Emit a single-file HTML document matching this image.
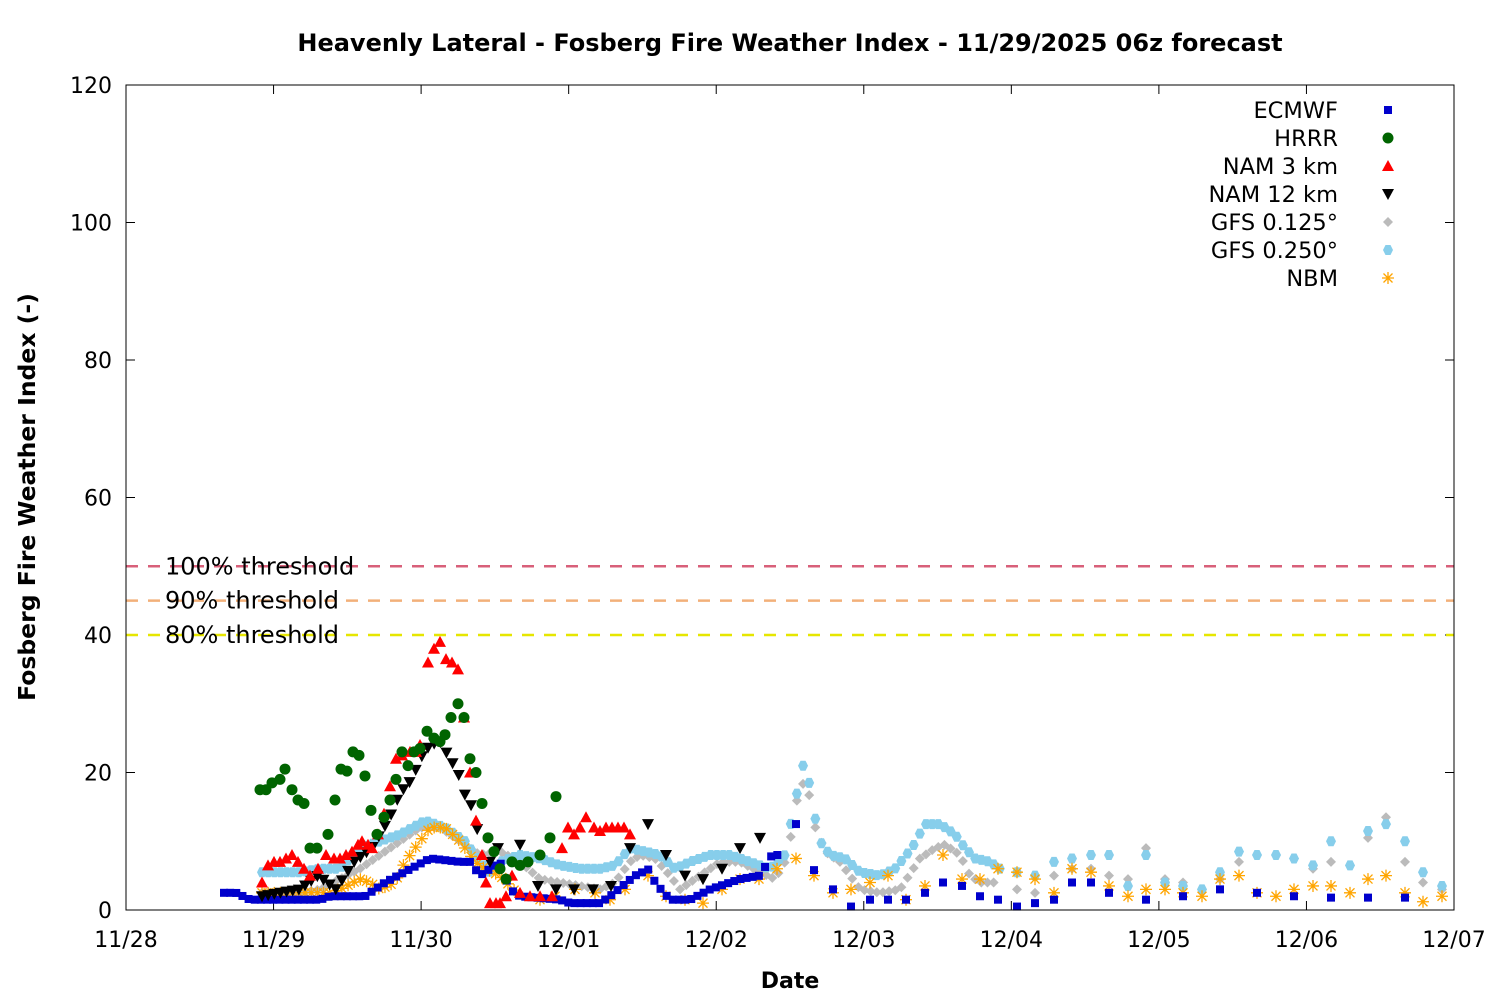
<!DOCTYPE html>
<html><head><meta charset="utf-8"><style>
body{margin:0;background:#fff}
text{font-family:"DejaVu Sans","Liberation Sans",sans-serif}
</style></head><body>
<svg id="s" width="1500" height="1000" xmlns="http://www.w3.org/2000/svg">
<rect width="1500" height="1000" fill="#fff"/>
<text x="790" y="51" text-anchor="middle" font-size="24" font-weight="bold">Heavenly Lateral - Fosberg Fire Weather Index - 11/29/2025 06z forecast</text>
<g id="axes"></g>
<g id="pts"></g>
<rect x="126" y="85" width="1328" height="825" fill="none" stroke="#000" stroke-width="1"/>
<text transform="translate(35,497) rotate(-90)" text-anchor="middle" font-size="23.5" font-weight="bold">Fosberg Fire Weather Index (-)</text>
<text x="790" y="988" text-anchor="middle" font-size="22" font-weight="bold">Date</text>
</svg>
<script>
const NS="http://www.w3.org/2000/svg";
const X0=126,X1=1454,Y0=910,YS=825/120,DAY=(X1-X0)/9;
function el(t,a,p){const e=document.createElementNS(NS,t);for(const k in a)e.setAttribute(k,a[k]);(p||document.getElementById('pts')).appendChild(e);return e;}
const ax=document.getElementById('axes');
for(let v=0;v<=120;v+=20){const y=Y0-v*YS;
 el('line',{x1:X0,y1:y,x2:X0+9,y2:y,stroke:'#000'},ax);el('line',{x1:X1,y1:y,x2:X1-9,y2:y,stroke:'#000'},ax);
 const t=el('text',{x:112,y:y+8,'text-anchor':'end','font-size':22},ax);t.textContent=v;}
const dl=['11/28','11/29','11/30','12/01','12/02','12/03','12/04','12/05','12/06','12/07'];
dl.forEach((d,i)=>{const x=X0+i*DAY;
 el('line',{x1:x,y1:Y0,x2:x,y2:Y0-9,stroke:'#000'},ax);el('line',{x1:x,y1:85,x2:x,y2:94,stroke:'#000'},ax);
 const t=el('text',{x:x,y:947,'text-anchor':'middle','font-size':22},ax);t.textContent=d;});
[[50,'#d8607a','100% threshold'],[45,'#f2b07a','90% threshold'],[40,'#e6e600','80% threshold']].forEach(([v,c,l])=>{const y=Y0-v*YS;
 el('line',{x1:X0,y1:y,x2:X1,y2:y,stroke:c,'stroke-width':2.5,'stroke-dasharray':'12,10'},ax);
 const t=el('text',{x:165,y:y+8,'font-size':24},ax);t.textContent=l;});
function mk(type,x,y){
 if(type=='sq')el('rect',{x:x-4,y:y-4,width:8,height:8,fill:'#0000cc'});
 else if(type=='ci')el('circle',{cx:x,cy:y,r:5.5,fill:'#006400'});
 else if(type=='tu')el('polygon',{points:`${x},${y-6} ${x-6},${y+5} ${x+6},${y+5}`,fill:'#ff0000'});
 else if(type=='td')el('polygon',{points:`${x},${y+6} ${x-6},${y-5} ${x+6},${y-5}`,fill:'#000'});
 else if(type=='di')el('polygon',{points:`${x},${y-5} ${x+5},${y} ${x},${y+5} ${x-5},${y}`,fill:'#bbbbbb'});
 else if(type=='hx')el('polygon',{points:`${x-5},${y} ${x-2.5},${y-5} ${x+2.5},${y-5} ${x+5},${y} ${x+2.5},${y+5} ${x-2.5},${y+5}`,fill:'#87ceeb'});
 else if(type=='as'){el('path',{d:`M${x-6},${y}H${x+6}M${x},${y-6}V${y+6}M${x-4.5},${y-4.5}L${x+4.5},${y+4.5}M${x-4.5},${y+4.5}L${x+4.5},${y-4.5}`,stroke:'#ffa500','stroke-width':1.3,fill:'none'});}
}
function interp(k,x){for(let i=0;i<k.length-1;i++){if(x>=k[i][0]&&x<=k[i+1][0]){const f=(x-k[i][0])/(k[i+1][0]-k[i][0]||1);return k[i][1]+f*(k[i+1][1]-k[i][1]);}}return k[k.length-1][1];}
function dense(type,k,step){const a=k[0][0],b=k[k.length-1][0];for(let x=a;x<=b+0.01;x+=step)mk(type,x,Y0-interp(k,x)*YS);}
function sparse(type,k){k.forEach(p=>mk(type,p[0],Y0-p[1]*YS));}
const H=DAY/24;
dense('di',[[262,2.5],[300,2.5],[320,3],[340,4.5],[360,6],[380,8],[400,10],[420,12],[440,12],[460,10],[480,8],[500,8.5],[520,7],[540,4.5],[560,4],[580,3.5],[600,3],[615,4],[630,7],[640,8],[655,7.5],[670,5],[680,3],[700,5],[720,7],[740,7],[760,5.5],[775,4.5],[785,7],[790,10],[797,16],[806,19.5],[814,12.5],[825,8.5],[840,7],[850,5],[860,3],[880,2.5],[900,3],[920,7.5],[935,9],[945,9.5],[960,8],[970,5],[980,4],[998,4]],H);
sparse('di',[[1017,3],[1035,2.5],[1054,5],[1072,6],[1091,6],[1109,5],[1128,4.5],[1146,9],[1165,4.5],[1183,4],[1202,3],[1220,4.5],[1239,7],[1257,8],[1276,8],[1294,7.5],[1313,6],[1331,7],[1350,6.5],[1368,10.5],[1386,13.5],[1405,7],[1423,4],[1442,3]]);
dense('hx',[[262,5.5],[300,5.5],[320,6],[340,6],[360,9],[380,10],[400,11],[425,13],[445,12],[465,10],[480,7],[490,5.5],[500,7],[520,8],[540,7.5],[560,6.5],[580,6],[600,6],[615,6.5],[630,9],[645,8.5],[660,8],[675,6],[690,7],[710,8],[730,8],[750,7],[770,6],[785,8],[790,12],[797,17],[803,21],[808,19.5],[815,13.5],[820,10],[830,8],[845,7.5],[860,5.5],[880,5],[895,6],[912,9],[925,12.5],[940,12.5],[955,11],[965,9],[975,7.5],[990,7],[1000,6]],H);
sparse('hx',[[1017,5.5],[1035,5],[1054,7],[1072,7.5],[1091,8],[1109,8],[1128,3.5],[1146,8],[1165,4],[1183,3.5],[1202,3],[1220,5.5],[1239,8.5],[1257,8],[1276,8],[1294,7.5],[1313,6.5],[1331,10],[1350,6.5],[1368,11.5],[1386,12.5],[1405,10],[1423,5.5],[1442,3.5]]);
dense('as',[[262,2.5],[330,2.5],[340,3],[360,4.5],[370,4],[380,3],[395,4],[405,7],[420,10],[430,12],[445,12],[460,10],[475,7],[485,6],[500,5],[520,2]],H);
sparse('as',[[540,1.5],[555,2],[575,3],[595,2.5],[610,1.5],[625,3],[648,5],[666,2],[685,1.5],[703,1],[722,3],[740,4.5],[759,4.5],[777,6],[796,7.5],[814,5],[833,2.5],[851,3],[870,4],[888,5],[906,1.5],[925,3.5],[943,8],[962,4.5],[980,4.5],[998,6],[1017,5.5],[1035,4.5],[1054,2.5],[1072,6],[1091,5.5],[1109,3.5],[1128,2],[1146,3],[1165,3],[1183,2.5],[1202,2],[1220,4.5],[1239,5],[1257,2.5],[1276,2],[1294,3],[1313,3.5],[1331,3.5],[1350,2.5],[1368,4.5],[1386,5],[1405,2.5],[1423,1.2],[1442,2]]);
dense('sq',[[224,2.5],[236,2.5],[250,1.5],[320,1.5],[330,2],[365,2],[385,4],[430,7.5],[460,7],[470,7],[480,5],[500,7],[510,3],[520,2],[560,1.5],[570,1],[600,1],[610,2],[635,5],[650,6],[655,4],[670,1.5],[690,1.5],[710,3],[740,4.5],[760,5],[772,8],[778,8]],H);
sparse('sq',[[796,12.5],[814,5.8],[833,3],[851,0.5],[870,1.5],[888,1.5],[906,1.5],[925,2.5],[943,4],[962,3.5],[980,2],[998,1.5],[1017,0.5],[1035,1],[1054,1.5],[1072,4],[1091,4],[1109,2.5],[1146,1.5],[1183,2],[1220,3],[1257,2.5],[1294,2],[1331,1.8],[1368,1.8],[1405,1.8]]);
dense('td',[[262,2],[280,2.5],[300,3],[318,5],[336,3],[354,7],[372,9],[390,13.5],[400,17],[412,19],[420,22],[430,24],[440,24.5],[450,22],[458,20],[464,17],[472,15],[480,10]],H);
sparse('td',[[490,7],[498,9],[520,9.5],[538,3.5],[556,3],[574,3],[593,3],[611,3.5],[630,9],[648,12.5],[666,8],[685,5],[703,4.5],[722,6],[740,9],[760,10.5]]);
sparse('tu',[[262,4],[268,6.5],[274,7],[280,7],[286,7.5],[292,8],[298,7],[304,6],[310,5],[318,6],[326,8],[334,7.5],[340,7.5],[346,8],[352,8.5],[358,9.5],[362,10],[368,9.5],[372,9],[378,11],[384,14],[390,18],[396,22],[402,22.5],[410,23],[416,23],[420,24],[428,36],[434,38],[440,39],[446,36.5],[452,36],[458,35],[464,28],[470,20],[476,13],[482,8],[486,4],[490,1],[496,1],[500,1],[506,2],[512,5],[520,2.5],[530,2],[540,2],[552,2],[562,9],[568,12],[574,11],[580,12],[586,13.5],[594,12],[600,11.5],[606,12],[612,12],[618,12],[624,12],[630,11]]);
sparse('ci',[[260,17.5],[266,17.5],[272,18.5],[280,19],[285,20.5],[292,17.5],[298,16],[304,15.5],[310,9],[317,9],[328,11],[335,16],[341,20.5],[347,20.2],[353,23],[359,22.5],[365,19.5],[371,14.5],[377,11],[384,13.5],[390,16],[396,19],[402,23],[408,21],[414,23],[420,23.5],[427,26],[434,25],[440,24.5],[445,25.5],[451,28],[458,30],[464,28],[470,22],[476,20],[482,15.5],[488,10.5],[494,8.5],[500,6],[506,4.5],[512,7],[520,6.5],[528,7],[540,8],[550,10.5],[556,16.5]]);
const L=[['ECMWF','sq'],['HRRR','ci'],['NAM 3 km','tu'],['NAM 12 km','td'],['GFS 0.125°','di'],['GFS 0.250°','hx'],['NBM','as']];
L.forEach(([n,t],i)=>{const y=110+i*28;const e=el('text',{x:1338,y:y+8,'text-anchor':'end','font-size':22.5});e.textContent=n;mk(t,1388,y);});
</script>
</body></html>
